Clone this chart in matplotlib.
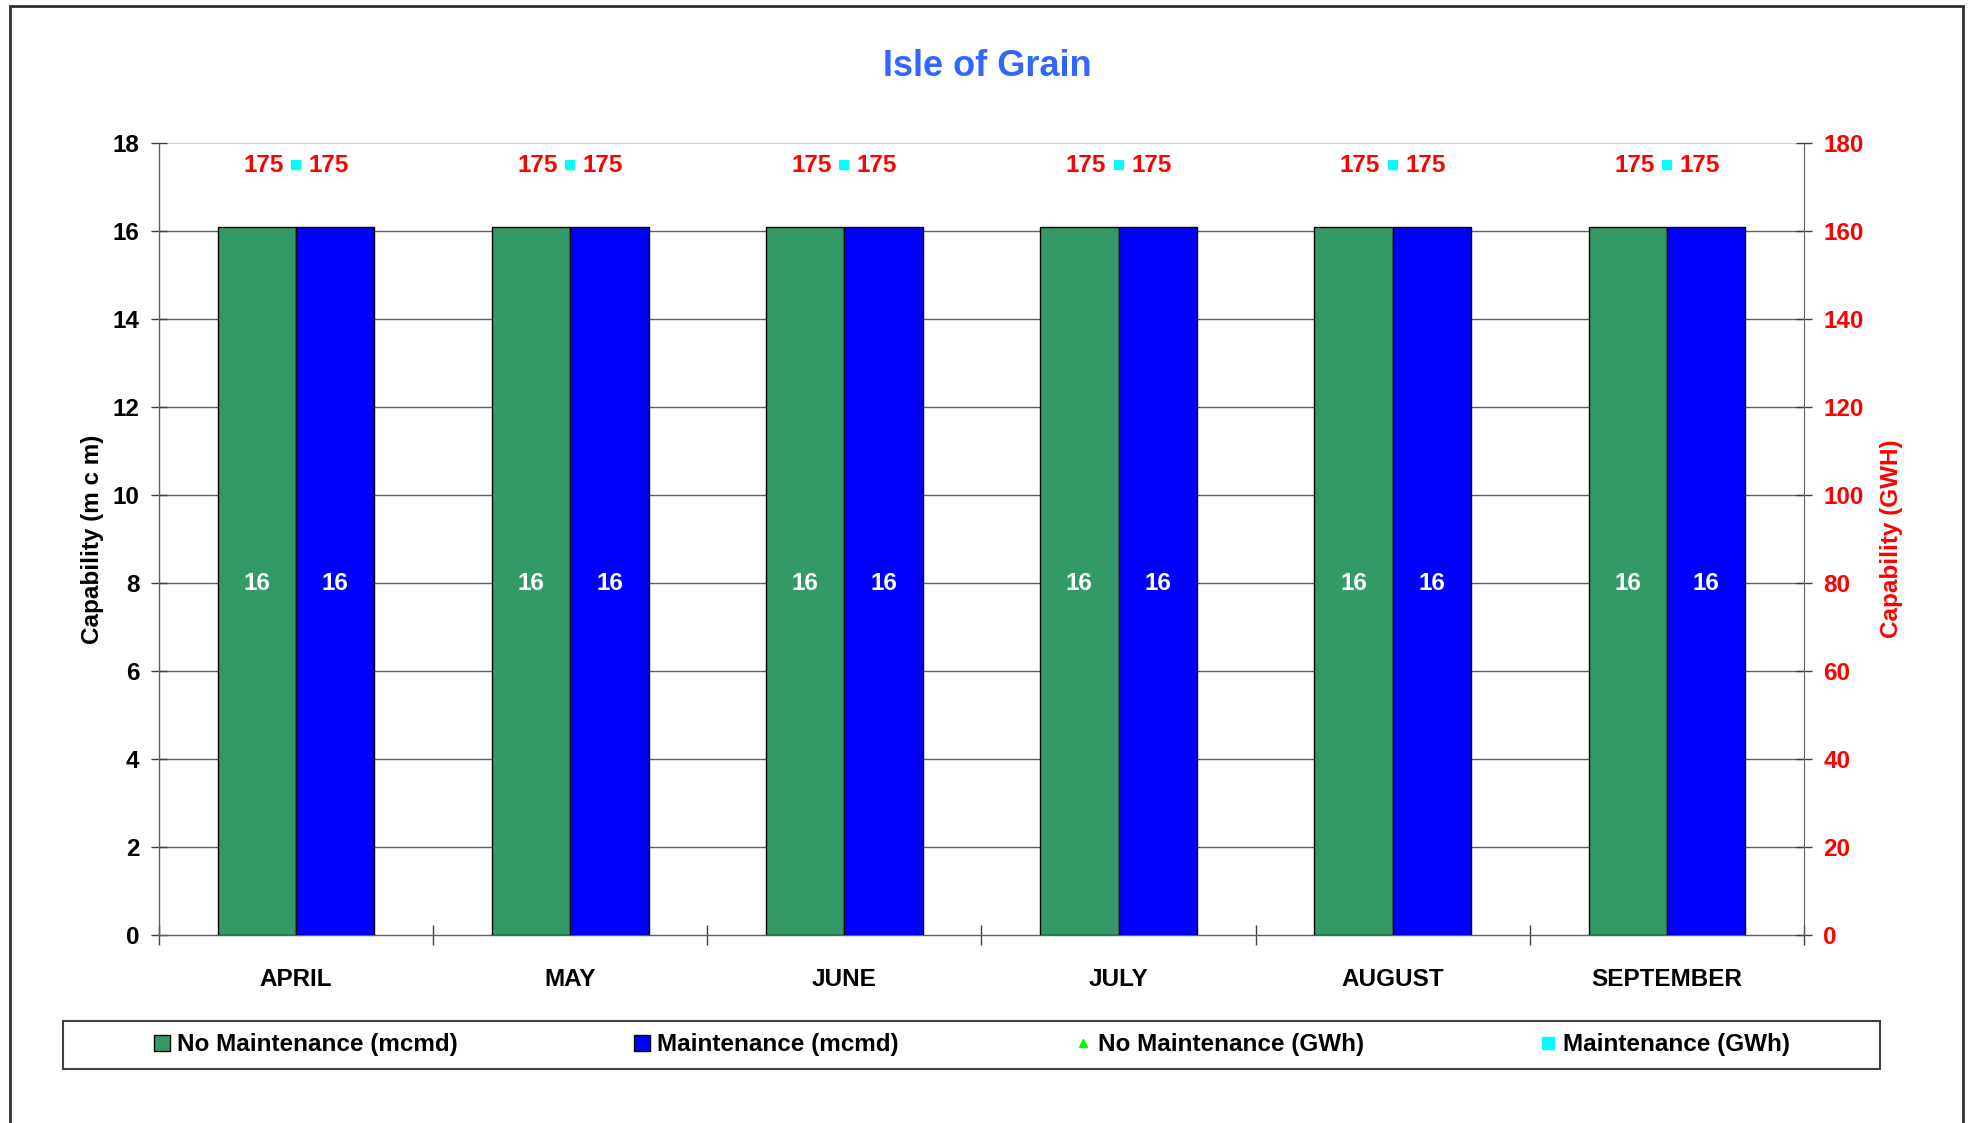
import numpy as np
import matplotlib
matplotlib.use("Agg")
import matplotlib.pyplot as plt
from matplotlib.patches import Rectangle
from matplotlib.lines import Line2D

plt.rcParams['font.family'] = ['Liberation Sans Narrow', 'Liberation Sans', 'DejaVu Sans']
plt.rcParams['font.weight'] = 'bold'

# data
months = ['APRIL', 'MAY', 'JUNE', 'JULY', 'AUGUST', 'SEPTEMBER']
no_maint_mcmd = [16.1, 16.1, 16.1, 16.1, 16.1, 16.1]
maint_mcmd = [16.1, 16.1, 16.1, 16.1, 16.1, 16.1]
no_maint_gwh = [175, 175, 175, 175, 175, 175]
maint_gwh = [175, 175, 175, 175, 175, 175]

W, H = 1969, 1123
fig = plt.figure(figsize=(W / 100, H / 100), dpi=100)
ax = fig.add_axes([159 / W, 1 - 935 / H, (1804 - 159) / W, (935 - 143) / H])

# outer chart border
fig.patches.append(Rectangle((10 / W, -0.05), (1963 - 10) / W, 1.05 - 6 / H,
                             transform=fig.transFigure, fill=False,
                             edgecolor='#303030', linewidth=2))

x = np.arange(len(months))
bw = 0.286
bars1 = ax.bar(x - bw / 2, no_maint_mcmd, bw, color='#339966', edgecolor='black', linewidth=1, zorder=3)
bars2 = ax.bar(x + bw / 2, maint_mcmd, bw, color='#0000FF', edgecolor='black', linewidth=1, zorder=3)
for bars, vals in ((bars1, no_maint_mcmd), (bars2, maint_mcmd)):
    for b, v in zip(bars, vals):
        ax.text(b.get_x() + b.get_width() / 2, 8, f"{v:.0f}", ha='center', va='center',
                color='white', fontsize=17.5, fontweight='bold', zorder=4)

ax.set_xlim(-0.5, len(months) - 0.5)
ax.set_ylim(0, 18)
ax.set_yticks(np.arange(0, 19, 2))
ax.set_xticks(np.arange(-0.5, len(months), 1.0))
ax.set_xticklabels([])
ax.set_xticks(x, minor=True)
ax.set_xticklabels(months, minor=True)
ax.tick_params(axis='x', which='minor', length=0, pad=24, labelsize=17.5)
ax.tick_params(axis='x', which='major', direction='inout', length=14, width=1, color='#404040')
ax.tick_params(axis='y', direction='inout', length=12, width=1, color='#404040', labelsize=17.5, pad=8)
for lbl in ax.get_xticklabels(minor=True) + ax.get_yticklabels():
    lbl.set_fontweight('bold')

for v in np.arange(2, 17, 2):
    ax.axhline(v, color='#606060', linewidth=1, zorder=1)
ax.axhline(18, color='#d0d0d0', linewidth=1.5, zorder=1)
ax.spines['top'].set_visible(False)
ax.spines['right'].set_visible(False)
for s in ('left', 'bottom'):
    ax.spines[s].set_color('#606060')
    ax.spines[s].set_linewidth(1)
ax.set_ylabel('Capability (m c m)', fontsize=17.5, fontweight='bold', labelpad=6)

ax2 = ax.twinx()
ax2.set_ylim(0, 180)
ax2.set_yticks(np.arange(0, 181, 20))
ax2.tick_params(axis='y', direction='inout', length=12, width=1, color='#404040',
                labelsize=17.5, labelcolor='#FF0000', pad=8)
for lbl in ax2.get_yticklabels():
    lbl.set_fontweight('bold')
for s in ('top', 'left', 'bottom'):
    ax2.spines[s].set_visible(False)
ax2.spines['right'].set_color('#606060')
ax2.set_ylabel('Capability (GWH)', fontsize=17.5, fontweight='bold', color='#FF0000', labelpad=12)

ax2.plot(x, no_maint_gwh, linestyle='none', marker='^', color='#00FF00', markersize=6, zorder=5)
ax2.plot(x, maint_gwh, linestyle='none', marker='s', color='#00FFFF', markersize=7,
         markeredgewidth=0, zorder=6)
for xi, a, b in zip(x, no_maint_gwh, maint_gwh):
    ax2.annotate(f"{a}", (xi, a), xytext=(-9, 0), textcoords='offset points',
                 ha='right', va='center', color='#FF0000', fontsize=17.5, fontweight='bold')
    ax2.annotate(f"{b}", (xi, b), xytext=(9, 0), textcoords='offset points',
                 ha='left', va='center', color='#FF0000', fontsize=17.5, fontweight='bold')

fig.text(987 / W, 1 - 66 / H, 'Isle of Grain', ha='center', va='center',
         color='#3366FF', fontsize=26, fontweight='bold')

# legend
fig.patches.append(Rectangle((63 / W, 1 - 1069 / H), (1880 - 63) / W, 48 / H,
                             transform=fig.transFigure, fill=False,
                             edgecolor='#404040', linewidth=1.5))
handles = [
    Line2D([], [], linestyle='none', marker='s', markersize=11, markerfacecolor='#339966',
           markeredgecolor='black', markeredgewidth=1),
    Line2D([], [], linestyle='none', marker='s', markersize=11, markerfacecolor='#0000FF',
           markeredgecolor='black', markeredgewidth=1),
    Line2D([], [], linestyle='none', marker='^', markersize=6, color='#00FF00'),
    Line2D([], [], linestyle='none', marker='s', markersize=8, color='#00FFFF'),
]
labels = ['No Maintenance (mcmd)', 'Maintenance (mcmd)', 'No Maintenance (GWh)', 'Maintenance (GWh)']
leg = fig.legend(handles, labels, loc='center left', ncol=4, mode='expand',
                 bbox_to_anchor=(155 / W, 1 - 1069 / H, (1790 - 155) / W, 48 / H),
                 frameon=False, fontsize=17.5, handlelength=0.6, handletextpad=0.3,
                 borderpad=0, borderaxespad=0)
for t in leg.get_texts():
    t.set_fontweight('bold')

fig.savefig('out.png', dpi=100)
